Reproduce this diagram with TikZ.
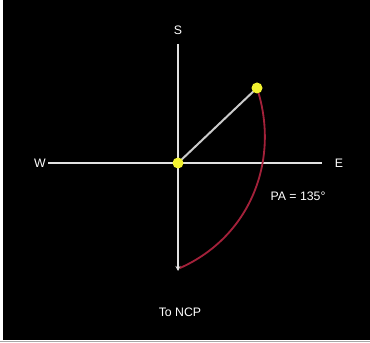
\documentclass[tikz,border=0pt]{standalone}
\usepackage{fontspec}
\setmainfont{Liberation Sans}
\usepackage{xcolor}
\usetikzlibrary{arrows.meta,positioning}
\definecolor{skybg}{HTML}{000000}
\definecolor{axisgray}{HTML}{E2E2E2}
\definecolor{dotyellow}{HTML}{F2F230}
\definecolor{arcred}{HTML}{A3213A}
\tikzset{
  lbl/.style={text=white,font=\fontsize{10.5}{12}\selectfont,inner sep=1pt},
  dotnode/.style={circle,fill=dotyellow,minimum size=3.3mm,inner sep=0pt},
  axisline/.style={axisgray,line width=0.75mm},
  vecline/.style={axisgray!90!black,line width=0.6mm},
  paarc/.style={arcred,line width=0.55mm},
}

\begin{document}
\begin{tikzpicture}[x=0.03cm,y=-0.03cm]
  \useasboundingbox (0,0) rectangle (370,343);
  \fill[white] (0,0) rectangle (370,343);
  \fill[skybg] (3,0) rectangle (370,340);
  \draw[gray!70,line width=0.3mm] (0,341.5) -- (370,341.5);
  \node[lbl] (nS) at (178,30) {S};
  \node[lbl] (nW) at (40,163) {W};
  \node[lbl] (nE) at (339,163) {E};
  \node[lbl] (nPA) at (298,196) {PA = 135°};
  \node[lbl] (nNCP) at (180,312) {To NCP};
  \coordinate (top) at (178,44);
  \coordinate (bot) at (178,271);
  \coordinate (west) at (48,163);
  \coordinate (east) at (322,163);
  \coordinate (arcend) at (180,268);
  \coordinate (pctr) at (178,163);
  \coordinate (pstar) at (257,88);
  \draw[axisline] (west) -- (east);
  \draw[axisline,-{Stealth[length=1.5mm,width=1.5mm]}] (top) -- (bot);
  \draw[vecline] (pctr) -- (pstar);
  \draw[paarc] (pstar) to[out=-72,in=24] (arcend);
  \node[dotnode] (ctr) at (pctr) {};
  \node[dotnode] (star) at (pstar) {};
\end{tikzpicture}
\end{document}
